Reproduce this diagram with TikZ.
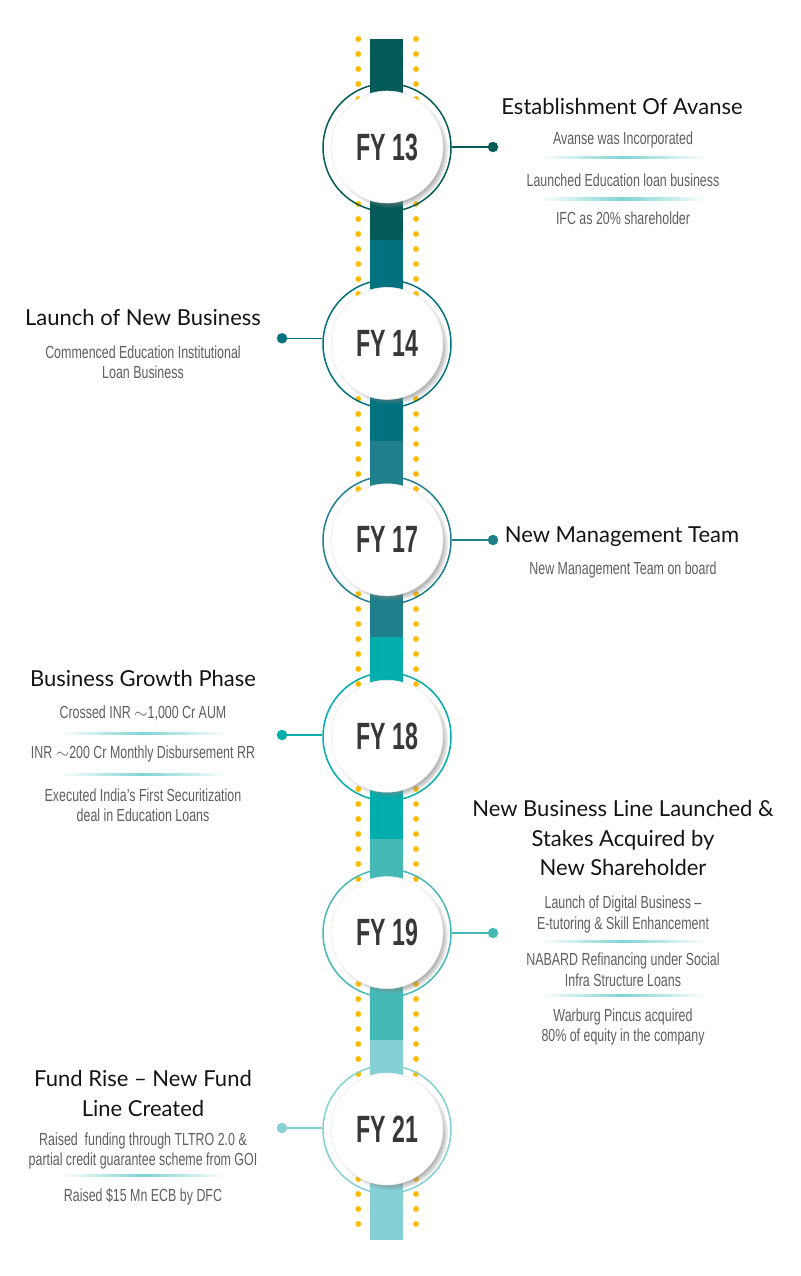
\documentclass[tikz,border=0pt]{standalone}
\usepackage{fontspec}
\setmainfont{Lato}
\newfontfamily\bodyfont[FakeStretch=0.71]{Liberation Sans}
\newfontfamily\fyfont[FakeStretch=0.61]{Liberation Sans}
\usetikzlibrary{shadows}
\definecolor{cA}{HTML}{045B58}
\definecolor{cB}{HTML}{02727F}
\definecolor{cC}{HTML}{1F808C}
\definecolor{cD}{HTML}{02ADAD}
\definecolor{cE}{HTML}{45B9B6}
\definecolor{cF}{HTML}{84D0D4}
\definecolor{dotc}{HTML}{FFBA00}
\definecolor{titlecol}{HTML}{141414}
\definecolor{bodycol}{HTML}{5E5E5E}
\definecolor{fycol}{HTML}{383838}
\definecolor{sepcol}{HTML}{7FD3D3}
\tikzset{
  ring/.style={circle, minimum size=128pt, inner sep=0pt, line width=1.5pt},
  yearc/.style={circle, minimum size=112pt, inner sep=0pt, fill=white, draw=black!8, line width=0.6pt,
     circular drop shadow={shadow xshift=3.5pt, shadow yshift=-3.5pt, shadow scale=1.03, opacity=0.8},
     font=\fyfont\bfseries\fontsize{38}{38}\selectfont, text=fycol},
  dotn/.style={circle, minimum size=10.5pt, inner sep=0pt},
  conn/.style={line width=1.3pt},
  ttl/.style={font=\fontsize{22}{29.5}\selectfont, text=titlecol, align=center, inner sep=0pt},
  bdy/.style={font=\bodyfont\fontsize{17.5}{20.5}\selectfont, text=bodycol, align=center, inner sep=0pt},
  sepline/.style={left color=white, right color=white, middle color=sepcol}
}
\begin{document}
\begin{tikzpicture}[x=1pt,y=-1pt]
\useasboundingbox (0,0) rectangle (800,1276);
% bar segments
\fill[cA] (370,39) rectangle (403,240);
\fill[cB] (370,240) rectangle (403,440.5);
\fill[cC] (370,440.5) rectangle (403,637);
\fill[cD] (370,637) rectangle (403,839);
\fill[cE] (370,839) rectangle (403,1040);
\fill[cF] (370,1040) rectangle (403,1240);
% dots
\foreach \k in {0,...,79}{
  \fill[dotc] (358.3,39+15*\k) circle (2.9pt);
  \fill[dotc] (416,39+15*\k) circle (2.9pt);
}
% rings
\node[ring, draw=cA] (r13) at (387,147.5) {};
\node[ring, draw=cB] (r14) at (387,343.9) {};
\node[ring, draw=cC] (r17) at (387,540.3) {};
\node[ring, draw=cD] (r18) at (387,736.7) {};
\node[ring, draw=cE] (r19) at (387,933.1) {};
\node[ring, draw=cF] (r21) at (387,1129.5) {};
% inner circles
\node[yearc] (c13) at (387,147) {FY 13};
\node[yearc] (c14) at (387,343.4) {FY 14};
\node[yearc] (c17) at (387,539.8) {FY 17};
\node[yearc] (c18) at (387,736.2) {FY 18};
\node[yearc] (c19) at (387,932.6) {FY 19};
\node[yearc] (c21) at (387,1129) {FY 21};
% connectors
\node[dotn, fill=cA] (d13) at (493,147) {};
\node[dotn, fill=cB] (d14) at (282,338.3) {};
\node[dotn, fill=cC] (d17) at (493,540) {};
\node[dotn, fill=cD] (d18) at (282,735) {};
\node[dotn, fill=cE] (d19) at (493,933) {};
\node[dotn, fill=cF] (d21) at (282,1128) {};
\draw[conn, cA] (d13 -| r13.east) -- (d13);
\draw[conn, cB] (d14 -| r14.west) -- (d14);
\draw[conn, cC] (d17 -| r17.east) -- (d17);
\draw[conn, cD] (d18 -| r18.west) -- (d18);
\draw[conn, cE] (d19 -| r19.east) -- (d19);
\draw[conn, cF] (d21 -| r21.west) -- (d21);
% FY13 texts
\node[ttl] (t13) at (622,106) {Establishment Of Avanse};
\node[bdy] (b13a) at (623,140) {Avanse was Incorporated};
\shade[sepline] (539,157) rectangle (707,159);
\node[bdy] (b13b) at (623,180) {Launched Education loan business};
\shade[sepline] (539,198) rectangle (707,200);
\node[bdy] (b13c) at (623,218) {IFC as 20\% shareholder};
% FY14 texts
\node[ttl] (t14) at (143,317) {Launch of New Business};
\node[bdy] (b14a) at (143,362) {Commenced Education Institutional\\Loan Business};
% FY17 texts
\node[ttl] (t17) at (622,537) {New Management Team};
\node[bdy] (b17a) at (623,570) {New Management Team on board};
% FY18 texts
\node[ttl] (t18) at (143,678) {Business Growth Phase};
\node[bdy] (b18a) at (143,713) {Crossed INR $\sim$1,000 Cr AUM};
\shade[sepline] (59,732) rectangle (227,734);
\node[bdy] (b18b) at (143,754) {INR $\sim$200 Cr Monthly Disbursement RR};
\shade[sepline] (59,773) rectangle (227,775);
\node[bdy] (b18c) at (143,805) {Executed India’s First Securitization\\deal in Education Loans};
% FY19 texts
\node[ttl] (t19) at (623,838) {New Business Line Launched \&\\Stakes Acquired by\\New Shareholder};
\node[bdy] (b19a) at (623,914.5) {Launch of Digital Business –\\E-tutoring \& Skill Enhancement};
\shade[sepline] (539,940) rectangle (707,942);
\node[bdy] (b19b) at (623,969.5) {NABARD Refinancing under Social\\Infra Structure Loans};
\shade[sepline] (539,994) rectangle (707,996);
\node[bdy] (b19c) at (623,1027) {Warburg Pincus acquired\\80\% of equity in the company};
% FY21 texts
\node[ttl] (t21) at (143,1093.5) {Fund Rise – New Fund\\Line Created};
\node[bdy] (b21a) at (143,1151) {Raised\ \ funding through TLTRO 2.0 \&\\partial credit guarantee scheme from GOI};
\shade[sepline] (59,1174) rectangle (227,1176);
\node[bdy] (b21b) at (143,1197) {Raised \$15 Mn ECB by DFC};
\end{tikzpicture}
\end{document}
